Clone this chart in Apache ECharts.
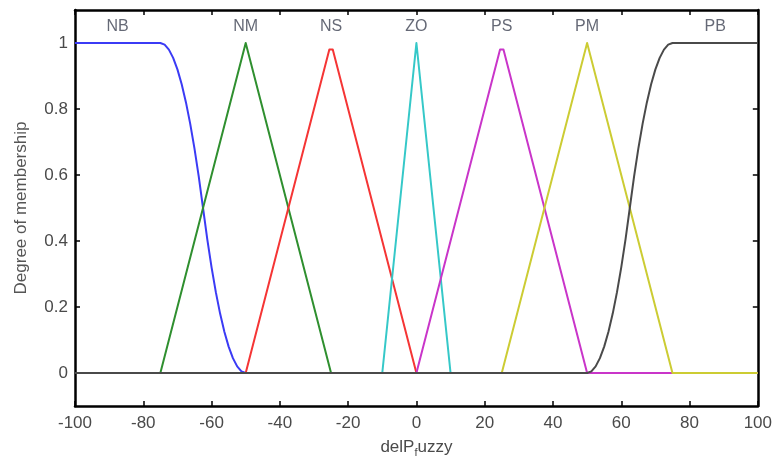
<!DOCTYPE html>
<html>
<head>
<meta charset="utf-8">
<script src="https://cdn.jsdelivr.net/npm/echarts@6/dist/echarts.min.js"></script>
<style>html,body{margin:0;padding:0;background:#fff}#c{width:775px;height:463px}</style>
</head>
<body>
<div id="c"></div>
<script>
var mfNames = ['NB', 'NM', 'NS', 'ZO', 'PS', 'PM', 'PB'];
var labelX = [-87.5, -50, -25, 0, 25, 50, 87.5];
var labelY = 1.05;
var xTicks = [-100, -80, -60, -40, -20, 0, 20, 40, 60, 80, 100];
var yTicks = [0, 0.2, 0.4, 0.6, 0.8, 1];

var NB = [[-100,1],[-75,1],[-73.75,0.995],[-72.5,0.98],[-71.25,0.955],[-70,0.92],[-68.75,0.875],[-67.5,0.82],[-66.25,0.755],[-65,0.68],[-63.75,0.595],[-62.5,0.5],[-61.25,0.405],[-60,0.32],[-58.75,0.245],[-57.5,0.18],[-56.25,0.125],[-55,0.08],[-53.75,0.045],[-52.5,0.02],[-51.25,0.005],[-50,0],[100,0]];
var NM = [[-100,0],[-75,0],[-50,1],[-25,0],[100,0]];
var NS = [[-100,0],[-50,0],[-25.5,0.98],[-24.5,0.98],[0,0],[100,0]];
var ZO = [[-100,0],[-10,0],[0,1],[10,0],[100,0]];
var PS = [[-100,0],[0,0],[24.5,0.98],[25.5,0.98],[50,0],[100,0]];
var PM = [[-100,0],[25,0],[50,1],[75,0],[100,0]];
var PB = [[-100,0],[50,0],[51.25,0.005],[52.5,0.02],[53.75,0.045],[55,0.08],[56.25,0.125],[57.5,0.18],[58.75,0.245],[60,0.32],[61.25,0.405],[62.5,0.5],[63.75,0.595],[65,0.68],[66.25,0.755],[67.5,0.82],[68.75,0.875],[70,0.92],[71.25,0.955],[72.5,0.98],[73.75,0.995],[75,1],[100,1]];

var mfData = [NB, NM, NS, ZO, PS, PM, PB];
var colors = ['#3b3bf5', '#2f8f2f', '#f53535', '#35c8c8', '#c935c9', '#cccc33', '#4a4a4a'];

var chart = echarts.init(document.getElementById('c'), null, {renderer: 'canvas'});
var font = 'Liberation Sans, Arial, sans-serif';
var series = mfData.map(function (d, i) {
  return {
    type: 'line', name: mfNames[i], data: d, showSymbol: false, symbol: 'none',
    lineStyle: {color: colors[i], width: 2, join: 'round'}, animation: false, z: 2 + i
  };
});
series.push({
  type: 'scatter', symbolSize: 0, animation: false, z: 20,
  data: mfNames.map(function (n, i) { return {value: [labelX[i], labelY], name: n}; }),
  label: {show: true, position: 'inside', formatter: '{b}', color: '#3e4454', fontSize: 16, fontFamily: font}
});

var axisLineStyle = {show: true, onZero: false, lineStyle: {color: '#000', width: 2.5}};
var tickStyle = {color: '#000', width: 1.5};
chart.setOption({
  backgroundColor: '#fff',
  animation: false,
  grid: {left: 75, right: 17, top: 10, bottom: 55, containLabel: false},
  xAxis: [{
    type: 'value', min: -100, max: 100, interval: 20, position: 'bottom',
    axisLine: axisLineStyle,
    axisTick: {show: true, inside: true, length: 5, lineStyle: tickStyle},
    axisLabel: {color: '#4a4a4a', fontSize: 17, fontFamily: font, margin: 9,
      formatter: function (v) { return xTicks.indexOf(v) >= 0 ? String(v) : ''; }},
    splitLine: {show: false},
    name: 'delP{sub|f}uzzy', nameLocation: 'middle', nameGap: 31,
    nameTextStyle: {color: '#4a4a4a', fontSize: 17, fontFamily: font,
      rich: {sub: {fontSize: 11, verticalAlign: 'bottom', padding: [10, 0, 0, 0], color: '#4a4a4a', fontFamily: font}}}
  }, {
    type: 'value', min: -100, max: 100, interval: 20, position: 'top',
    axisLine: axisLineStyle,
    axisTick: {show: true, inside: true, length: 5, lineStyle: tickStyle},
    axisLabel: {show: false}, splitLine: {show: false}
  }],
  yAxis: [{
    type: 'value', min: -0.1, max: 1.1, position: 'left',
    axisLine: axisLineStyle,
    axisTick: {show: true, inside: true, length: 5, customValues: yTicks, lineStyle: tickStyle},
    axisLabel: {color: '#4a4a4a', fontSize: 17, fontFamily: font, margin: 7, customValues: yTicks,
      formatter: function (v) { return String(Math.round(v * 10) / 10); }},
    splitLine: {show: false},
    name: 'Degree of membership', nameLocation: 'middle', nameGap: 45, nameRotate: 90,
    nameTextStyle: {color: '#555', fontSize: 17, fontFamily: font}
  }, {
    type: 'value', min: -0.1, max: 1.1, position: 'right',
    axisLine: axisLineStyle,
    axisTick: {show: true, inside: true, length: 5, customValues: yTicks, lineStyle: tickStyle},
    axisLabel: {show: false}, splitLine: {show: false}
  }],
  series: series
});
</script>
</body>
</html>
